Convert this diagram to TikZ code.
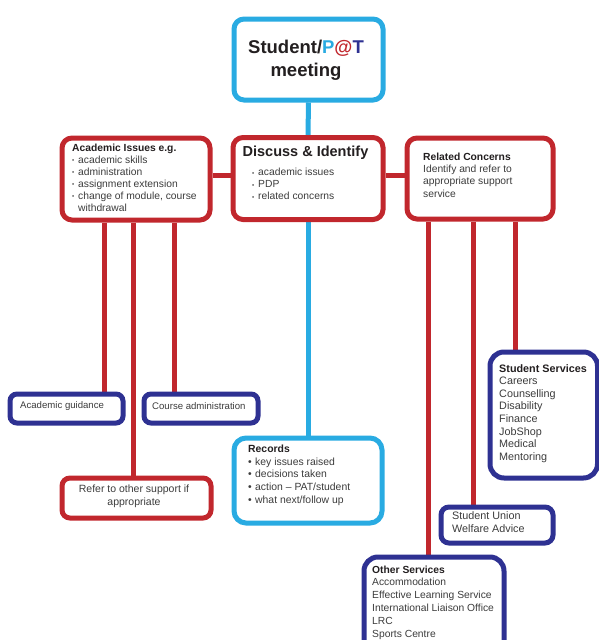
\documentclass[tikz,border=0pt]{standalone}
\usepackage{fontspec}
\usepackage{graphicx}
\setmainfont{Liberation Sans}
\definecolor{pred}{HTML}{C1272D}
\definecolor{pnavy}{HTML}{2E3192}
\definecolor{pblue}{HTML}{29ABE2}
\definecolor{ptext}{HTML}{3C3C3C}
\definecolor{ptitle}{HTML}{231F20}
\pgfdeclarelayer{bg}
\pgfsetlayers{bg,main}
\newcommand\pbul{\makebox[6pt][l]{\raisebox{0.3pt}{\scalebox{0.6}{\textbullet}}}}
\newcommand\pbig{\makebox[7pt][l]{\textbullet}}
\begin{document}
\begin{tikzpicture}[x=1pt,y=-1pt,
  anybox/.style={line width=5pt, fill=white, inner sep=0pt, anchor=north west, rounded corners=10pt},
  redbox/.style={anybox, draw=pred},
  navybox/.style={anybox, draw=pnavy},
  bluebox/.style={anybox, draw=pblue},
  redline/.style={draw=pred, line width=5pt},
  blueline/.style={draw=pblue, line width=5pt},
  txt/.style={inner sep=0pt, anchor=base west, text=ptext},
]
\useasboundingbox (0,0) rectangle (598,640);

% boxes
\node[bluebox, minimum width=149pt, minimum height=81pt] (tb) at (231.5,16.5) {};
\node[redbox, minimum width=148pt, minimum height=82pt] (lb) at (59.5,135.5) {};
\node[redbox, minimum width=150pt, minimum height=82pt] (db) at (230.5,135) {};
\node[redbox, minimum width=146pt, minimum height=81pt] (rb) at (404.5,135.5) {};
\node[navybox, rounded corners=7pt, minimum width=113pt, minimum height=29pt] (ag) at (7.5,391.5) {};
\node[navybox, rounded corners=7pt, minimum width=114pt, minimum height=29pt] (ca) at (141.5,391.5) {};
\node[redbox, rounded corners=8pt, minimum width=149pt, minimum height=40pt] (rf) at (59.5,475.5) {};
\node[bluebox, rounded corners=12pt, minimum width=148pt, minimum height=85pt] (rec) at (231.5,435.5) {};
\node[navybox, rounded corners=14pt, minimum width=107.5pt, minimum height=126pt] (ss) at (487.5,349.5) {};
\node[navybox, rounded corners=8pt, minimum width=112pt, minimum height=36pt] (su) at (438.5,504.5) {};
\begin{scope}
\clip (0,0) rectangle (598,640);
\node[navybox, rounded corners=14pt, minimum width=140pt, minimum height=105pt] (os) at (361.5,554.5) {};
\end{scope}

% connectors
\begin{pgfonlayer}{bg}
\draw[blueline] (tb.south) -- (db.north);
\draw[blueline] (db.south) -- (rec.north);
\draw[redline] (lb.east |- 0,175) -- (db.west |- 0,175);
\draw[redline] (db.east |- 0,175) -- (rb.west |- 0,175);
\draw[redline] (104,0 |- lb.south) -- (104,0 |- ag.north);
\draw[redline] (133,0 |- lb.south) -- (133,0 |- rf.north);
\draw[redline] (174,0 |- lb.south) -- (174,0 |- ca.north);
\draw[redline] (428,0 |- rb.south) -- (428,0 |- os.north);
\draw[redline] (473,0 |- rb.south) -- (473,0 |- su.north);
\draw[redline] (515,0 |- rb.south) -- (515,0 |- ss.north);
\end{pgfonlayer}

% texts
\node[txt, anchor=base, text=ptitle, font=\bfseries\fontsize{18.5}{23}\selectfont] (tbt) at (306,53.5)
  {\begin{tabular}[t]{@{}c@{}}Student/\textcolor{pblue}{P}\textcolor{pred}{@}\textcolor{pnavy}{T}\\meeting\end{tabular}};

\node[txt, font=\fontsize{10.3}{12}\selectfont] (lbt) at (72,151)
  {\begin{tabular}[t]{@{}l@{}}\textcolor{ptitle}{\bfseries Academic Issues e.g.}\\
   \pbul academic skills\\ \pbul administration\\ \pbul assignment extension\\
   \pbul change of module, course\\ \hspace*{6pt}withdrawal\end{tabular}};

\node[txt, anchor=base, text=ptitle, font=\bfseries\fontsize{14.5}{17}\selectfont] (dbt) at (305.5,156) {Discuss \& Identify};
\node[txt, font=\fontsize{10.3}{12}\selectfont] (dbl) at (252,175.5)
  {\begin{tabular}[t]{@{}l@{}}\pbul academic issues\\ \pbul PDP\\ \pbul related concerns\end{tabular}};

\node[txt, font=\fontsize{10.3}{12.4}\selectfont] (rbt) at (423,160)
  {\begin{tabular}[t]{@{}l@{}}\textcolor{ptitle}{\bfseries Related Concerns}\\
   Identify and refer to\\ appropriate support\\ service\end{tabular}};

\node[txt, font=\fontsize{9.6}{12}\selectfont] (agt) at (20,408.5) {Academic guidance};
\node[txt, font=\fontsize{9.6}{12}\selectfont] (cat) at (152,409.5) {Course administration};
\node[txt, anchor=base, font=\fontsize{10.5}{13.4}\selectfont] (rft) at (134,492.5)
  {\begin{tabular}[t]{@{}c@{}}Refer to other support if\\ appropriate\end{tabular}};

\node[txt, font=\fontsize{10.4}{12.7}\selectfont] (rect) at (248,452.5)
  {\begin{tabular}[t]{@{}l@{}}\textcolor{ptitle}{\bfseries Records}\\
   \pbig key issues raised\\ \pbig decisions taken\\ \pbig action -- PAT/student\\ \pbig what next/follow up\end{tabular}};

\node[txt, font=\fontsize{10.8}{12.6}\selectfont] (sst) at (499,372)
  {\begin{tabular}[t]{@{}l@{}}\textcolor{ptitle}{\bfseries Student Services}\\
   Careers\\ Counselling\\ Disability\\ Finance\\ JobShop\\ Medical\\ Mentoring\end{tabular}};

\node[txt, font=\fontsize{10.8}{13}\selectfont] (sut) at (452,519)
  {\begin{tabular}[t]{@{}l@{}}Student Union\\ Welfare Advice\end{tabular}};

\node[txt, font=\fontsize{10.3}{12.8}\selectfont] (ost) at (372,573)
  {\begin{tabular}[t]{@{}l@{}}\textcolor{ptitle}{\bfseries Other Services}\\
   Accommodation\\ Effective Learning Service\\ International Liaison Office\\ LRC\\ Sports Centre\end{tabular}};
\end{tikzpicture}
\end{document}
